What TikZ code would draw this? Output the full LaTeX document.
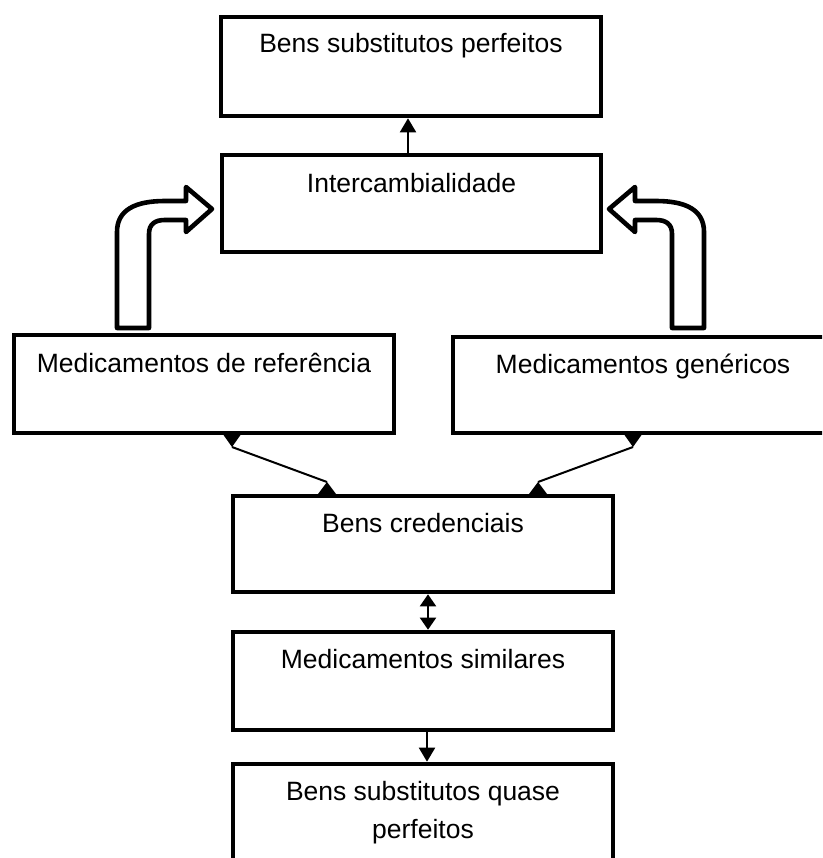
\documentclass[tikz,border=0pt]{standalone}
\usepackage{fontspec}
\setmainfont{Liberation Sans}
\usetikzlibrary{arrows.meta,calc}
\begin{document}
\begin{tikzpicture}[x=1pt,y=-1pt,
  box/.style={draw,line width=4.6pt,rectangle,inner sep=0pt,outer sep=0pt,anchor=north west},
  lbl/.style={anchor=base,inner sep=0pt,font=\fontsize{26.5}{38}\selectfont},
  conn/.style={line width=2pt},
  tip/.style={-{Triangle[length=14pt,width=16pt]},shorten >=2.3pt},
  dtip/.style={{Triangle[length=12pt,width=16pt]}-{Triangle[length=12pt,width=16pt]},shorten >=2.3pt,shorten <=2.3pt},
  bent/.style={draw,fill=white,line width=4.6pt,line join=round}]
\useasboundingbox (0,0) rectangle (822,858);
\fill[white] (0,0) rectangle (822,858);
\clip (0,0) rectangle (822,858);

% boxes
\node[box,minimum width=380pt,minimum height=99pt] (b1) at (221,17) {};
\node[box,minimum width=379pt,minimum height=97pt] (b2) at (222,155) {};
\node[box,minimum width=380pt,minimum height=98pt] (b3) at (14,335) {};
\node[box,minimum width=380pt,minimum height=96pt] (b4) at (453,337) {};
\node[box,minimum width=380pt,minimum height=96pt] (b5) at (233,496) {};
\node[box,minimum width=380pt,minimum height=98pt] (b6) at (233,632) {};
\node[box,minimum width=380pt,minimum height=110pt] (b7) at (233,764) {};

% labels
\node[lbl] (t1) at ($(b1.north)+(0,36)$) {Bens substitutos perfeitos};
\node[lbl] (t2) at ($(b2.north)+(0,38)$) {Intercambialidade};
\node[lbl] (t3) at ($(b3.north)+(0,37)$) {Medicamentos de referência};
\node[lbl] (t4) at ($(b4.north)+(0,36)$) {Medicamentos genéricos};
\node[lbl] (t5) at ($(b5.north)+(0,36)$) {Bens credenciais};
\node[lbl] (t6) at ($(b6.north)+(0,36)$) {Medicamentos similares};
\node[lbl] (t7) at ($(b7.north)+(0,36)$) {Bens substitutos quase};
\node[lbl] (t7b) at ($(b7.north)+(0,74)$) {perfeitos};

% vertical connectors
\coordinate (xa) at (408,0);
\coordinate (xb) at (428,0);
\coordinate (xc) at (427,0);
\draw[conn,tip] (b2.north -| xa) -- (b1.south -| xa);
\draw[conn,dtip] (b5.south -| xb) -- (b6.north -| xb);
\draw[conn,tip] (b6.south -| xc) -- (b7.north -| xc);

% diagonal connectors
\coordinate (d1) at ($(b3.south west)+(218,14)$);
\coordinate (d2) at ($(b5.north west)+(94,-14)$);
\coordinate (d3) at ($(b4.south west)+(180,14)$);
\coordinate (d4) at ($(b5.north east)+(-75,-14)$);
\draw[conn] (d1) -- (d2);
\draw[conn] (d3) -- (d4);
\fill (d1) -- ++(-8.5,-12) -- ++(17,0) -- cycle;
\fill (d3) -- ++(-8.5,-12) -- ++(17,0) -- cycle;
\fill (d2) -- ++(-9,12) -- ++(18,0) -- cycle;
\fill (d4) -- ++(-9,12) -- ++(18,0) -- cycle;

% bent block arrows
\path[bent] (117,328) -- (117,232) .. controls (117,210) and (135,201) .. (165,201)
  -- (186,201) -- (186,187) -- (212,209) -- (186,232) -- (186,220) -- (165,220)
  .. controls (155,220) and (149,224) .. (149,234) -- (149,328) -- cycle;
\begin{scope}[xshift=821pt,xscale=-1]
\path[bent] (117,328) -- (117,232) .. controls (117,210) and (135,201) .. (165,201)
  -- (186,201) -- (186,187) -- (212,209) -- (186,232) -- (186,220) -- (165,220)
  .. controls (155,220) and (149,224) .. (149,234) -- (149,328) -- cycle;
\end{scope}
\end{tikzpicture}
\end{document}
